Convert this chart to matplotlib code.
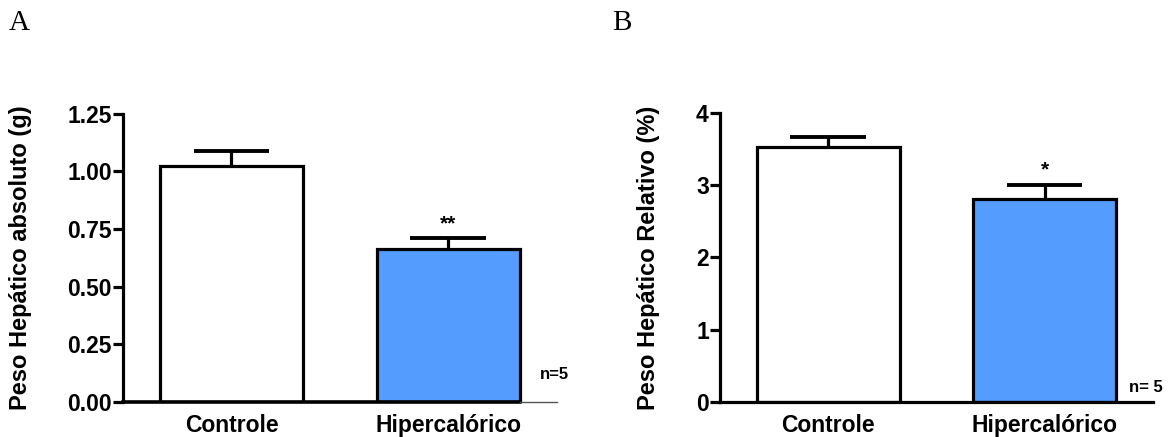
import numpy as np
import matplotlib
matplotlib.use("Agg")
import matplotlib.pyplot as plt

plt.rcParams['font.family'] = 'Liberation Sans'
plt.rcParams['font.weight'] = 'bold'
plt.rcParams['axes.labelweight'] = 'bold'

# data
grupos = ['Controle', 'Hipercalórico']
peso_abs = [1.025, 0.663]
peso_abs_err = [0.063, 0.046]
peso_rel = [3.535, 2.81]
peso_rel_err = [0.14, 0.20]
sig_abs = ['', '**']
sig_rel = ['', '*']
cores = ['white', '#549dff']

fig = plt.figure(figsize=(11.76, 4.37), dpi=100)


def painel(rect, valores, erros, sig, ylim, yticks, yfmt, ylabel, label_x, n_txt, n_pos, thin_tail):
    ax = fig.add_axes(rect)
    x = np.arange(len(grupos))
    ax.bar(x, valores, width=0.66, color=cores, edgecolor='black', linewidth=2.3, zorder=2)
    # only the upper half of the error bar, as in the original
    topo = np.array(valores) + np.array(erros)
    ax.vlines(x, valores, topo, color='black', linewidth=2.3, zorder=1)
    ax.hlines(topo, x - 0.175, x + 0.175, color='black', linewidth=2.8, zorder=1)
    for xi, t, s in zip(x, topo, sig):
        if s:
            ax.annotate(s, xy=(xi, t), xytext=(0, 4), textcoords='offset points',
                        ha='center', va='bottom', fontsize=15)
    ax.set_xlim(-0.5, 1.5)
    ax.set_ylim(*ylim)
    ax.set_yticks(yticks)
    ax.set_yticklabels([yfmt.format(t) for t in yticks])
    ax.set_xticks(x)
    ax.set_xticklabels(grupos)
    ax.tick_params(axis='x', length=0, pad=9, labelsize=16.5)
    ax.tick_params(axis='y', length=7, width=2.3, pad=1, labelsize=16.5)
    for sp in ['top', 'right']:
        ax.spines[sp].set_visible(False)
    ax.spines['left'].set_linewidth(2.3)
    if thin_tail:
        ax.spines['bottom'].set_visible(False)
        edge = (1 + 0.33 + 0.5) / 2.0
        ax.axhline(0, 0, edge, color='black', linewidth=2.6, clip_on=False, zorder=3)
        ax.axhline(0, edge, 1, color='#555555', linewidth=1.0, clip_on=False, zorder=3)
    else:
        ax.spines['bottom'].set_linewidth(2.3)
    ax.set_ylabel(ylabel, fontsize=17)
    ax.yaxis.set_label_coords(label_x, 0.5)
    ax.text(n_pos[0], n_pos[1], n_txt, ha='center', va='center', fontsize=12, clip_on=False)
    return ax


painel([0.1046, 0.0808, 0.369, 0.6585], peso_abs, peso_abs_err, sig_abs,
       (0, 1.25), [0, 0.25, 0.5, 0.75, 1.0, 1.25], '{:.2f}',
       'Peso Hepático absoluto (g)', -0.21, 'n=5', (1.49, 0.116), True)
painel([0.6122, 0.0808, 0.368, 0.66], peso_rel, peso_rel_err, sig_rel,
       (0, 4), [0, 1, 2, 3, 4], '{:.0f}',
       'Peso Hepático Relativo (%)', -0.139, 'n= 5', (1.469, 0.2), False)

fig.text(9 / 1176, 1 - 30 / 437, 'A', fontfamily='Liberation Serif', fontweight='normal',
         fontsize=21, va='baseline')
fig.text(612 / 1176, 1 - 30 / 437, 'B', fontfamily='Liberation Serif', fontweight='normal',
         fontsize=21, va='baseline')

fig.savefig('out.png', dpi=100)
